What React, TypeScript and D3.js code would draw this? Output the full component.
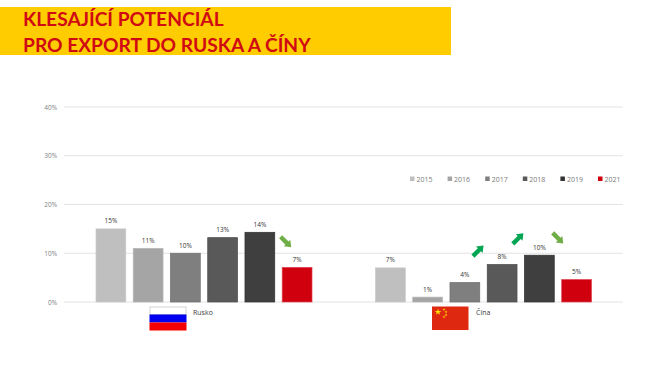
import React from "react";
import * as d3 from "d3";

const W = 670, H = 376;
const countries = ["Rusko", "Čína"];
const years = ["2015", "2016", "2017", "2018", "2019", "2021"];
const colors = ["#bfbfbf", "#a5a5a5", "#7f7f7f", "#595959", "#3f3f3f", "#d0000f"];
const edge = ["#c9c9c9", "#b5b5b5", "#6e6e6e", "#4a4a4a", "#303030", "#e04050"];
const rusko = [15, 11, 10, 13.2, 14.3, 7.1];
const cina = [7, 1, 4, 7.7, 9.6, 4.6];
const labelsRusko = ["15%", "11%", "10%", "13%", "14%", "7%"];
const labelsCina = ["7%", "1%", "4%", "8%", "10%", "5%"];
const ticks = [0, 10, 20, 30, 40];
// arrows: [country, bar position, level in %, direction]
const arrows: [number, number, number, "up" | "down"][] = [
  [0, 4.7, 12.3, "down"],
  [1, 2.36, 10.5, "up"],
  [1, 3.43, 13, "up"],
  [1, 4.5, 13.1, "down"],
];

const font = "'Open Sans', 'DejaVu Sans', sans-serif";

export default function App() {
  const y = d3.scaleLinear().domain([0, 40]).range([302, 107]);
  const x0 = d3.scaleBand<number>().domain([0, 1]).range([64, 623]).padding(0);
  const x1 = d3.scaleBand<number>().domain(d3.range(6)).range([32, 248]).paddingInner(0.2).paddingOuter(0);
  const bw = x1.bandwidth();
  const series = [rusko, cina];
  const labels = [labelsRusko, labelsCina];
  const barX = (c: number, i: number) => (x0(c) as number) + x1(0)! + i * x1.step();
  const starPath = d3.symbol().type(d3.symbolStar);
  return (
    <svg width={W} height={H} style={{ position: "absolute", left: 0, top: 0, background: "#fff" }}>
      <rect x={0} y={7} width={451} height={48} fill="#ffcc00" />
      <g fontFamily="Lato, 'Open Sans', sans-serif" fontWeight={700} fontSize={19.2} fill="#cf0a14">
        <text x={23} y={25.7}>KLESAJÍCÍ POTENCIÁL</text>
        <text x={23} y={52.2}>PRO EXPORT DO RUSKA A ČÍNY</text>
      </g>
      {ticks.map((t) => (
        <g key={t}>
          <line x1={64} x2={623} y1={y(t)} y2={y(t)} stroke="#e3e3e3" strokeWidth={1} />
          <text x={57} y={y(t) + 2.5} textAnchor="end" fontFamily={font} fontSize={6.5} fill="#808080">{t}%</text>
        </g>
      ))}
      {series.map((vals, c) => vals.map((v, i) => (
        <g key={`${c}-${i}`}>
          <rect x={barX(c, i)} y={y(v)} width={bw} height={y(0) - y(v)} fill={colors[i]} stroke={edge[i]} strokeWidth={0.7} />
          <text x={barX(c, i) + bw / 2} y={y(v) - 5.5} textAnchor="middle" fontFamily={font} fontSize={6.5} fill="#333">{labels[c][i]}</text>
        </g>
      )))}
      {arrows.map(([c, i, level, dir], k) => (
        <g key={k} transform={`translate(${barX(c, i) + bw / 2},${y(level)}) rotate(${dir === "up" ? 45 : 135})`}
          fill={dir === "up" ? "#00a651" : "#70ad47"}>
          <path d="M-2.2,7.5 L2.2,7.5 L2.2,-1.5 L4.6,-1.5 L0,-7.5 L-4.6,-1.5 L-2.2,-1.5 Z" />
        </g>
      ))}
      <g>
        <rect x={150} y={307} width={36} height={7.5} fill="#fff" stroke="#c8c8c8" strokeWidth={0.8} />
        <rect x={149.5} y={314.5} width={37} height={8} fill="#0000f0" />
        <rect x={149.5} y={322.5} width={37} height={8} fill="#f50000" />
      </g>
      <text x={193} y={315} fontFamily={font} fontSize={7} fill="#404040">{countries[0]}</text>
      <g>
        <rect x={432} y={306.5} width={36.5} height={23.5} fill="#de2910" />
        <path d={starPath.size(14)() as string} transform="translate(438,312)" fill="#ffde00" />
        {[[444, 309.5], [446, 312], [446, 315], [444, 317]].map(([a, b], k) => (
          <path key={k} d={starPath.size(2.5)() as string} transform={`translate(${a},${b})`} fill="#ffde00" />
        ))}
      </g>
      <text x={476} y={315} fontFamily={font} fontSize={7} fill="#404040">{countries[1]}</text>
      {years.map((yr, i) => {
        const lx = d3.scaleLinear().domain([0, 5]).range([410, 598])(i);
        return (
          <g key={yr}>
            <rect x={lx} y={176.5} width={4.5} height={4.5} fill={colors[i] === "#3f3f3f" ? "#333" : colors[i]} />
            <text x={lx + 6.5} y={181.5} fontFamily={font} fontSize={7} fill="#7a7a7a">{yr}</text>
          </g>
        );
      })}
    </svg>
  );
}
